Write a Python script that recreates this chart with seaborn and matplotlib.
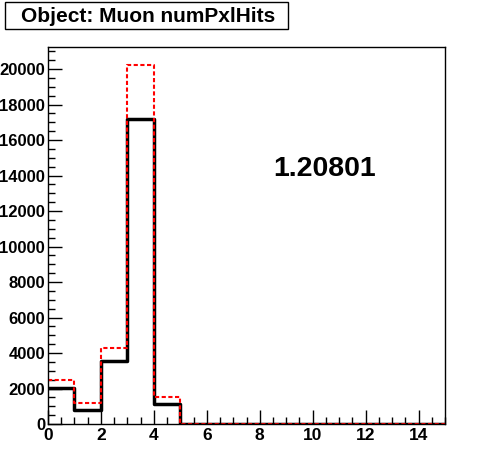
import numpy as np
import pandas as pd
import matplotlib
matplotlib.use("Agg")
import matplotlib.pyplot as plt
import seaborn as sns
from matplotlib.ticker import MultipleLocator
from matplotlib.patches import Rectangle

# numPxlHits histogram, 15 unit bins from 0 to 15
bin_edges = list(range(0, 16))
black_counts = [2030, 790, 3560, 17180, 1120, 0, 0, 0, 0, 0, 0, 0, 0, 0, 0]
red_counts = [2480, 1180, 4290, 20230, 1510, 0, 0, 0, 0, 0, 0, 0, 0, 0, 0]
title_text = "Object: Muon numPxlHits"
ratio_text = "1.20801"

centers = np.array(bin_edges[:-1]) + 0.5
df = pd.DataFrame({
    "x": np.concatenate([centers, centers]),
    "w": black_counts + red_counts,
    "sample": ["black"] * 15 + ["red"] * 15,
})

sns.set_style("ticks")
plt.rcParams["font.family"] = ["Liberation Sans", "DejaVu Sans"]
plt.rcParams["font.weight"] = "bold"
for key in ["text.color", "axes.labelcolor", "xtick.color", "ytick.color", "axes.edgecolor"]:
    plt.rcParams[key] = "black"

fig = plt.figure(figsize=(4.96, 4.72), dpi=100)
ax = fig.add_axes([48 / 496, 48 / 472, 397 / 496, 377 / 472])

sns.histplot(data=df[df["sample"] == "black"], x="x", weights="w", bins=bin_edges,
             element="step", fill=False, color="black", linewidth=2.5, ax=ax)
sns.histplot(data=df[df["sample"] == "red"], x="x", weights="w", bins=bin_edges,
             element="step", fill=False, color="red", linewidth=1.5,
             linestyle=(0, (2, 1.2)), ax=ax)

ax.set_xlim(0, 15)
ax.set_ylim(0, 1.05 * max(red_counts))
ax.set_xlabel("")
ax.set_ylabel("")
ax.xaxis.set_major_locator(MultipleLocator(2))
ax.xaxis.set_minor_locator(MultipleLocator(0.5))
ax.yaxis.set_major_locator(MultipleLocator(2000))
ax.yaxis.set_minor_locator(MultipleLocator(500))
ax.tick_params(which="both", direction="in", top=False, right=False, width=1, colors="black")
ax.tick_params(which="major", length=10)
ax.tick_params(which="minor", length=5)
ax.tick_params(axis="x", pad=3, labelsize=12.5)
ax.tick_params(axis="y", pad=2, labelsize=12)
for s in ax.spines.values():
    s.set_linewidth(1)
    s.set_color("black")
for lab in ax.get_xticklabels() + ax.get_yticklabels():
    lab.set_fontweight("bold")

ax.text((325 - 48) / 397, (424 - 169) / 377, ratio_text, transform=ax.transAxes,
        ha="center", va="center", fontsize=20.5, fontweight="bold", color="black")

# title box
fig.patches.append(Rectangle((5 / 496, 1 - 29 / 472), 283 / 496, 27 / 472,
                             transform=fig.transFigure, fc="white", ec="black",
                             lw=1, zorder=1))
fig.text(148 / 496, 1 - 16 / 472, title_text, ha="center", va="center",
         fontsize=15, fontweight="bold", color="black", zorder=2)

fig.savefig("out.png", dpi=100)
